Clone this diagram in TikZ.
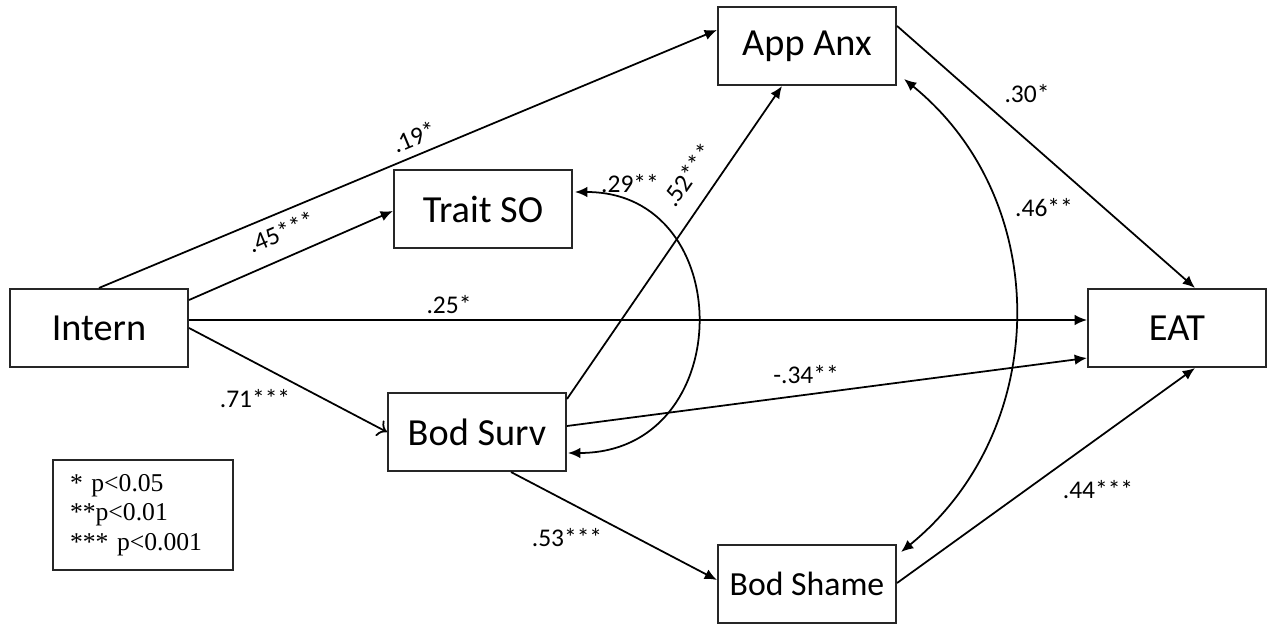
\documentclass[tikz,border=0pt]{standalone}
\usepackage{fontspec}
\setmainfont{Carlito}
\newfontfamily\legendfont{Liberation Serif}
\usetikzlibrary{arrows.meta,calc}

\begin{document}
\begin{tikzpicture}[x=0.02cm,y=-0.02cm,
  var/.style={draw=black!85, line width=1.2pt, fill=white,
    minimum width=3.56cm, minimum height=1.56cm, inner sep=0pt,
    font=\fontsize{21.8}{26}\selectfont},
  link/.style={draw, line width=1pt, -{Latex[length=7pt,width=6pt]}},
  openlink/.style={draw, line width=1pt, -{To[length=5pt,width=10pt]}},
  both/.style={draw, line width=1pt, {Latex[length=7pt,width=6pt]}-{Latex[length=7pt,width=6pt]}},
  coef/.style={inner sep=0pt, font=\fontsize{14.5}{17}\selectfont}]

% canvas
\fill[white] (0,0) rectangle (1270,624);
\useasboundingbox (0,0) rectangle (1270,624);

% variables
\node[var] (intern) at (99,328)    {Intern};
\node[var] (trait)  at (483,209)   {Trait SO};
\node[var] (appanx) at (807,46)    {App Anx};
\node[var] (surv)   at (477,432)   {Bod Surv};
\node[var, font=\fontsize{19.2}{23}\selectfont] (shame) at (807,584) {Bod Shame};
\node[var] (eat)    at (1177,328)  {EAT};

% directed paths
\draw[link] (intern.north) -- ($(appanx.west)+(0,-16)$);
\draw[link] ($(intern.east)+(0,-28)$) -- ($(trait.west)+(0,2)$);
\draw[link] ($(intern.east)+(0,-8)$) -- ($(eat.west)+(0,-8)$);
\draw[openlink] (intern.east) -- (surv.west);
\draw[link] ($(surv.north east)+(0,7)$) -- ($(appanx.south)+(-25,0)$);
\draw[link] ($(surv.east)+(0,-6)$) -- ($(eat.west)+(0,30)$);
\draw[link] ($(surv.south)+(34,0)$) -- ($(shame.west)+(0,-4)$);
\draw[link] ($(appanx.north east)+(0,20)$) -- ($(eat.north)+(18,0)$);
\draw[link] ($(shame.east)+(0,-1)$) -- ($(eat.south)+(18,0)$);

% covariances
\draw[both] ($(trait.east)+(2,-17)$)
  .. controls ($(trait.east)+(166,-17)$) and ($(surv.east)+(171,21)$)
  .. ($(surv.east)+(1,21)$);
\draw[both] ($(appanx.east)+(7,33)$)
  .. controls ($(appanx.east)+(157,155)$) and ($(shame.east)+(154,-154)$)
  .. ($(shame.east)+(4,-32)$);

% coefficients
\node[coef, rotate=22.7] (c19) at (414,137) {.19*};
\node[coef, rotate=23]   (c45) at (281,232) {.45***};
\node[coef]              (c25) at (449,305) {.25*};
\node[coef]              (c71) at (255,399) {.71***};
\node[coef, rotate=55]   (c52) at (688,175) {.52***};
\node[coef]              (c29) at (630,184) {.29**};
\node[coef]              (c34) at (806,375) {-.34**};
\node[coef]              (c53) at (567,538) {.53***};
\node[coef]              (c30) at (1027,94) {.30*};
\node[coef]              (c46) at (1044,208) {.46**};
\node[coef]              (c44) at (1098,490) {.44***};

% significance legend
\node[draw=black!85, line width=1pt, minimum width=3.6cm, minimum height=2.2cm,
  text width=2.92cm, inner xsep=0.34cm, align=left,
  font=\legendfont\fontsize{14.6}{16.7}\selectfont] (legend) at (143,515)
  {* p<0.05\\{}**p<0.01\\{}*** p<0.001};
\end{tikzpicture}
\end{document}
